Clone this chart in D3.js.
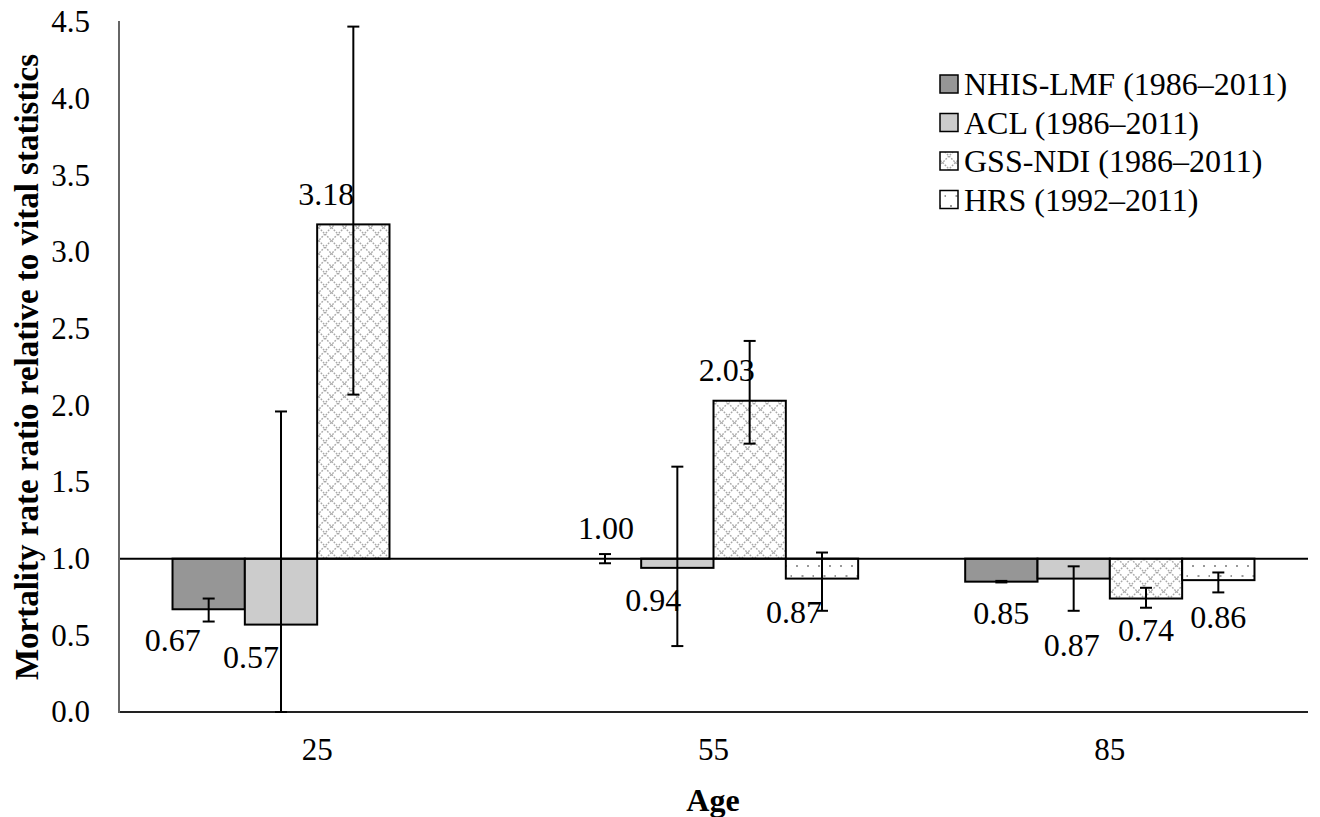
<!DOCTYPE html>
<html><head><meta charset="utf-8">
<script src="https://cdn.jsdelivr.net/npm/d3@7"></script>
<style>
body{margin:0;background:#fff;}
svg text{font-family:"Liberation Serif","Times New Roman",serif;fill:#000;}
</style></head>
<body><svg id="c" width="1320" height="817"></svg>
<script>
const ages = ["25","55","85"];
const seriesNames = ["NHIS-LMF (1986–2011)","ACL (1986–2011)","GSS-NDI (1986–2011)","HRS (1992–2011)"];
const nhis = [0.67, 1.00, 0.85];
const acl  = [0.57, 0.94, 0.87];
const gss  = [3.18, 2.03, 0.74];
const hrs  = [null, 0.87, 0.86];
const nhisLo = [0.59, 0.97, 0.845], nhisHi = [0.74, 1.03, 0.855];
const aclLo  = [0.00, 0.43, 0.66],  aclHi  = [1.96, 1.60, 0.95];
const gssLo  = [2.07, 1.75, 0.68],  gssHi  = [4.47, 2.42, 0.81];
const hrsLo  = [null, 0.66, 0.78],  hrsHi  = [null, 1.04, 0.91];
const yTicks = [0,0.5,1,1.5,2,2.5,3,3.5,4,4.5];
// label offsets (px) relative to bar centre / bar end: [series][age]
const labelDx = [[-36,1,0],[-30,-24,-2],[-27,-23,0],[0,-28,0]];
const labelDy = [[31,-31,31],[32,32,66],[-30,-31,31],[0,33,37]];

const values = [nhis, acl, gss, hrs];
const lows = [nhisLo, aclLo, gssLo, hrsLo];
const highs = [nhisHi, aclHi, gssHi, hrsHi];

const svg = d3.select("#c");
const L = 119, R = 1308, T = 22, B = 712;
const y = d3.scaleLinear().domain([0,4.5]).range([B,T]);
const x0 = d3.scaleBand().domain(ages).range([L,R]).padding(0);
const x1 = d3.scaleBand().domain(d3.range(4)).range([0,x0.bandwidth()]).paddingInner(0).paddingOuter(0.74);

const defs = svg.append("defs");
const P = 13;
const pg = defs.append("pattern").attr("id","hatch").attr("patternUnits","userSpaceOnUse")
  .attr("width",P).attr("height",P);
pg.append("rect").attr("width",P).attr("height",P).attr("fill","#fff");
pg.append("path").attr("d",`M0,0 L${P},${P} M${P},0 L0,${P}`).attr("stroke","#a8a8a8")
  .attr("stroke-width",1.4).attr("stroke-dasharray","1.8,1.3").attr("fill","none");
const pd = defs.append("pattern").attr("id","dots").attr("patternUnits","userSpaceOnUse")
  .attr("width",22).attr("height",20);
pd.append("rect").attr("width",22).attr("height",20).attr("fill","#fff");
[[4,5],[15,5],[9.5,15],[20.5,15]].forEach(p=>pd.append("rect").attr("x",p[0]).attr("y",p[1])
  .attr("width",2).attr("height",2).attr("fill","#999"));
const fills = ["#969696","#cccccc","url(#hatch)","url(#dots)"];

// bars
ages.forEach((a,ai)=>{
  values.forEach((vals,si)=>{
    const v = vals[ai];
    if(v==null) return;
    const bx = x0(a)+x1(si);
    const y1 = y(Math.max(v,1)), y2 = y(Math.min(v,1));
    svg.append("rect").attr("x",bx).attr("y",y1).attr("width",x1.bandwidth())
      .attr("height",Math.max(y2-y1,0)).attr("fill",fills[si])
      .attr("stroke","#000").attr("stroke-width",2);
  });
});

// axes lines
svg.append("line").attr("x1",L).attr("x2",R).attr("y1",y(0)).attr("y2",y(0))
  .attr("stroke","#222").attr("stroke-width",2);
svg.append("line").attr("x1",L).attr("x2",R).attr("y1",y(1)).attr("y2",y(1))
  .attr("stroke","#000").attr("stroke-width",2);
svg.append("line").attr("x1",L).attr("x2",L).attr("y1",T-1).attr("y2",B+1)
  .attr("stroke","#666").attr("stroke-width",2);

// error bars
ages.forEach((a,ai)=>{
  values.forEach((vals,si)=>{
    if(vals[ai]==null) return;
    const cx = x0(a)+x1(si)+x1.bandwidth()/2;
    const lo = lows[si][ai], hi = highs[si][ai];
    const g = svg.append("g").attr("stroke","#000").attr("stroke-width",2);
    g.append("line").attr("x1",cx).attr("x2",cx).attr("y1",y(lo)).attr("y2",y(hi));
    [lo,hi].forEach(e=>g.append("line").attr("x1",cx-6).attr("x2",cx+6).attr("y1",y(e)).attr("y2",y(e)));
  });
});

// data labels
ages.forEach((a,ai)=>{
  values.forEach((vals,si)=>{
    const v = vals[ai];
    if(v==null) return;
    const cx = x0(a)+x1(si)+x1.bandwidth()/2;
    svg.append("text").attr("x",cx+labelDx[si][ai]).attr("y",y(v)+labelDy[si][ai])
      .attr("text-anchor","middle").attr("dominant-baseline","central")
      .style("font-size","32px").text(d3.format(".2f")(v));
  });
});

// y tick labels
const yAxis = d3.axisLeft(y).tickValues(yTicks).tickFormat(d3.format(".1f")).tickSize(0).tickPadding(29);
const ga = svg.append("g").attr("transform",`translate(${L},0)`).call(yAxis);
ga.select(".domain").remove();
ga.selectAll("text").style("font-size","31px").attr("font-family",null);

// x tick labels
const xAxis = d3.axisBottom(x0).tickSize(0).tickPadding(26);
const gx = svg.append("g").attr("transform",`translate(0,${B})`).call(xAxis);
gx.select(".domain").remove();
gx.selectAll("text").style("font-size","31px").attr("font-family",null);

// titles
svg.append("text").attr("x",713).attr("y",800).attr("text-anchor","middle")
  .attr("dominant-baseline","central").style("font-size","32px").style("font-weight","bold").text("Age");
svg.append("text").attr("transform",`translate(27,${(T+B)/2}) rotate(-90)`).attr("text-anchor","middle")
  .attr("dominant-baseline","central").style("font-size","33px").style("font-weight","bold")
  .text("Mortality rate ratio relative to vital statistics");

// legend
const lg = svg.append("g");
seriesNames.forEach((n,i)=>{
  const ly = 84 + i*38.5;
  lg.append("rect").attr("x",940).attr("y",ly-9).attr("width",18).attr("height",18)
    .attr("fill",fills[i]).attr("stroke","#000").attr("stroke-width",1.5);
  lg.append("text").attr("x",964).attr("y",ly).attr("dominant-baseline","central")
    .style("font-size","32px").text(n);
});
</script></body></html>
